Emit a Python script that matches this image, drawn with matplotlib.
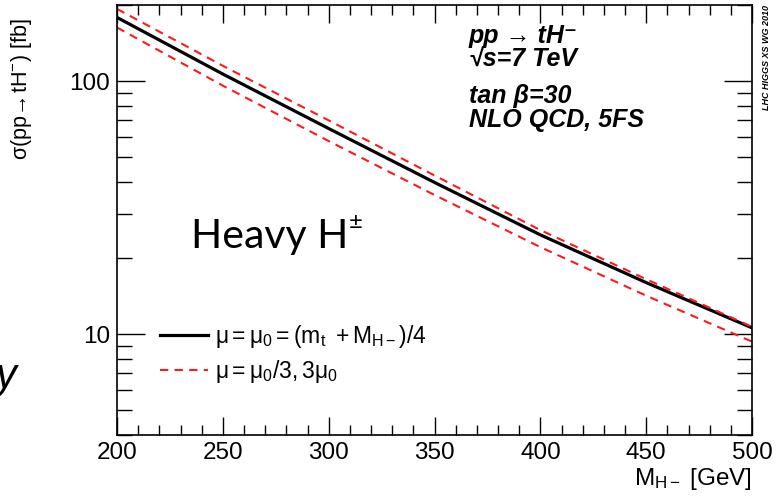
import numpy as np
import matplotlib
matplotlib.use('Agg')
import matplotlib.pyplot as plt
from matplotlib.ticker import FixedLocator, NullFormatter, FixedFormatter

# data (cross section in fb vs charged Higgs mass)
mass = [200, 250, 300, 350, 400, 450, 500]
sigma_central = [178.6, 106.7, 65.0, 39.8, 24.7, 16.0, 10.6]
sigma_up = [193.0, 115.0, 70.0, 42.4, 25.8, 16.5, 10.7]
sigma_down = [163.0, 96.0, 58.0, 35.5, 22.1, 14.2, 9.35]

plt.rcParams['font.family'] = ['Liberation Sans', 'DejaVu Sans']
plt.rcParams['mathtext.fontset'] = 'custom'
plt.rcParams['mathtext.rm'] = 'Liberation Sans'
plt.rcParams['mathtext.it'] = 'Liberation Sans:italic'
plt.rcParams['mathtext.bf'] = 'Liberation Sans:bold:italic'

fig = plt.figure(figsize=(7.81, 4.98), dpi=100)
ax = fig.add_axes([0.1498, 0.1265, 0.8132, 0.8635])

ax.plot(mass, sigma_central, color='black', lw=2.3,
        label=r'$\mathregular{\mu = \mu_0 = (m_t\ +M_{H-})/4}$')
ax.plot(mass, sigma_up, color='#ff1a1a', lw=1.5, ls=(0, (4, 3)),
        label=r'$\mathregular{\mu = \mu_0/3,3\mu_0}$')
ax.plot(mass, sigma_down, color='#ff1a1a', lw=1.5, ls=(0, (4, 3)))

ax.set_yscale('log')
ax.set_xlim(200, 500)
ax.set_ylim(4, 200)

ax.xaxis.set_major_locator(FixedLocator([200, 250, 300, 350, 400, 450, 500]))
ax.xaxis.set_minor_locator(FixedLocator(np.arange(200, 501, 10)))
ax.yaxis.set_major_locator(FixedLocator([10, 100]))
ax.yaxis.set_major_formatter(FixedFormatter(['10', '100']))
yminor = [v * d for d in [1, 10, 100] for v in range(2, 10)]
ax.yaxis.set_minor_locator(FixedLocator(yminor))
ax.yaxis.set_minor_formatter(NullFormatter())

ax.tick_params(which='both', direction='in', top=True, right=True,
               labelsize=17.5, colors='black', width=1.0)
ax.tick_params(axis='x', which='major', length=13, pad=5)
ax.tick_params(axis='x', which='minor', length=7)
ax.tick_params(axis='y', which='major', length=20, pad=5)
ax.tick_params(axis='y', which='minor', length=11)
for s in ax.spines.values():
    s.set_linewidth(1.2)

ax.set_ylabel(r'$\mathregular{\sigma(pp\!\rightarrow\!tH^{-})\ [fb]}$', fontsize=15.5)
ax.yaxis.set_label_coords(-0.13, 0.805)
ax.set_xlabel(r'$\mathregular{M_{H-}\ [GeV]}$', fontsize=17.5, ha='right')
ax.xaxis.set_label_coords(1.0, -0.072)

leg = ax.legend(loc='lower left', bbox_to_anchor=(0.05, 0.09), frameon=False,
                fontsize=16.5, handlelength=2.1, handletextpad=0.3,
                labelspacing=0.35, borderpad=0)

# process labels
tx = 0.554
lab = dict(transform=ax.transAxes, fontsize=18, va='baseline',
           fontweight='bold', style='italic')
ax.text(tx, 0.912, 'pp \u2192 tH\u207b', **lab)
ax.text(tx, 0.856, '\u221as=7 TeV', **lab)
ax.text(tx, 0.772, 'tan \u03b2=30', **lab)
ax.text(tx, 0.716, 'NLO QCD, 5FS', **lab)

fig.text(0.981, 0.99, 'LHC HIGGS XS WG 2010', rotation=90, ha='center',
         va='top', fontsize=6.5, fontweight='bold', style='italic')

# slide text around the plot
fig.text(0.245, 0.503, 'Heavy H', fontsize=29.5, family=['Lato', 'DejaVu Sans'],
         va='baseline')
fig.text(0.447, 0.540, '\u00b1', fontsize=17, family=['Lato', 'DejaVu Sans'],
         va='baseline')
fig.text(-0.006, 0.221, 'y', fontsize=30, style='italic', va='baseline')

fig.savefig('out.png', dpi=100)
